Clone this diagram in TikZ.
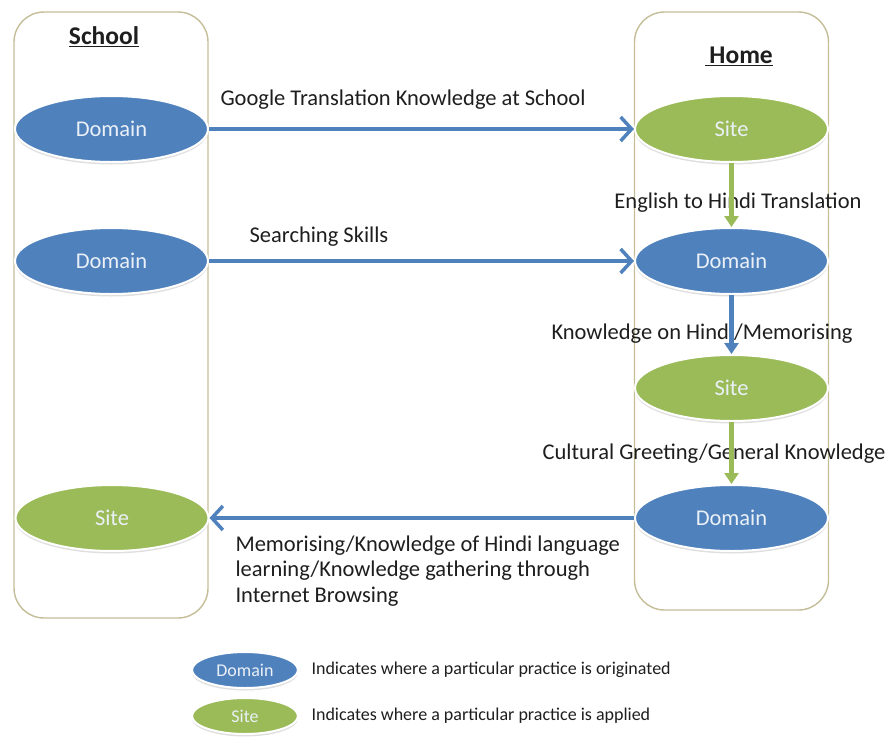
\documentclass[tikz,border=0pt]{standalone}
\usepackage{fontspec}
\setmainfont{Carlito}
\usepackage{tikz}
\usetikzlibrary{positioning, arrows.meta, shapes.geometric, shadows}
\definecolor{domainblue}{RGB}{79, 129, 189}
\definecolor{sitegreen}{RGB}{155, 187, 89}
\definecolor{boxtan}{RGB}{196, 189, 151}
\definecolor{ink}{RGB}{30, 30, 30}

\begin{document}
\begin{tikzpicture}[
    x=1pt, y=-1pt,
    column/.style={draw=boxtan, line width=1.4pt, rounded corners=30pt, minimum width=194pt},
    oval/.style={ellipse, draw=white, line width=2pt, inner sep=0pt, text=white!88!domainblue,
        drop shadow={shadow xshift=0pt, shadow yshift=-2.5pt, opacity=0.25}},
    domainoval/.style={oval, fill=domainblue, minimum width=193pt, minimum height=66pt, font=\fontsize{22.5}{26}\selectfont},
    siteoval/.style={oval, fill=sitegreen, minimum width=193pt, minimum height=66pt, font=\fontsize{22.5}{26}\selectfont},
    lbl/.style={text=ink, font=\fontsize{22.5}{26}\selectfont},
    flow/.style={line width=3.5pt, domainblue, -{Straight Barb[length=11pt, width=24pt]}},
    vflow/.style={line width=4.5pt, -{Triangle[length=11pt, width=14pt]}}
]
    \useasboundingbox (0,0) rectangle (889,737);

    \node[column, minimum height=606pt] (school) at (111,315) {};
    \node[column, minimum height=598pt] (home) at (731.5,311) {};
    \node[text=ink, font=\fontsize{25.5}{30}\selectfont\bfseries] (schooltitle) at (104,37) {\underline{School}};
    \node[text=ink, font=\fontsize{25.5}{30}\selectfont\bfseries] (hometitle) at (739,56) {\underline{\,Home}};

    \node[domainoval] (sd1) at (111.5,129) {Domain};
    \node[domainoval] (sd2) at (111.5,261) {Domain};
    \node[siteoval] (ss) at (112,518) {Site};

    \node[siteoval] (hs1) at (731.5,129) {Site};
    \node[domainoval] (hd1) at (731.5,261) {Domain};
    \node[siteoval] (hs2) at (731.5,388) {Site};
    \node[domainoval] (hd2) at (731.5,518) {Domain};

    \node[lbl] (l1) at (403,100) {Google Translation Knowledge at School};
    \node[lbl] (l2) at (319,237) {Searching Skills};
    \node[lbl] (l3) at (738,203) {English to Hindi Translation};
    \node[lbl] (l4) at (702,334) {Knowledge on Hindi/Memorising};
    \node[lbl] (l5) at (714,454) {Cultural Greeting/General Knowledge};
    \node[lbl, font=\fontsize{22.5}{25.5}\selectfont, align=left, anchor=north west] (l6) at (232,532)
        {Memorising/Knowledge of Hindi language\\learning/Knowledge gathering through\\Internet Browsing};

    \draw[flow] (sd1) -- (hs1);
    \draw[flow] (sd2) -- (hd1);
    \draw[flow] (hd2) -- (ss);
    \draw[vflow, sitegreen] (hs1) -- (hd1);
    \draw[vflow, domainblue] (hd1) -- (hs2);
    \draw[vflow, sitegreen] (hs2) -- (hd2);

    \node[oval, fill=domainblue, minimum width=106pt, minimum height=36pt, font=\fontsize{18}{21}\selectfont] (keyd) at (245,670) {Domain};
    \node[oval, fill=sitegreen, minimum width=106pt, minimum height=36pt, font=\fontsize{18}{21}\selectfont] (keys) at (245,716) {Site};
    \node[text=ink, font=\fontsize{18}{21}\selectfont, anchor=west, right=9pt of keyd] (keydtext) {Indicates where a particular practice is originated};
    \node[text=ink, font=\fontsize{18}{21}\selectfont, anchor=west, right=9pt of keys] (keystext) {Indicates where a particular practice is applied};
\end{tikzpicture}
\end{document}
